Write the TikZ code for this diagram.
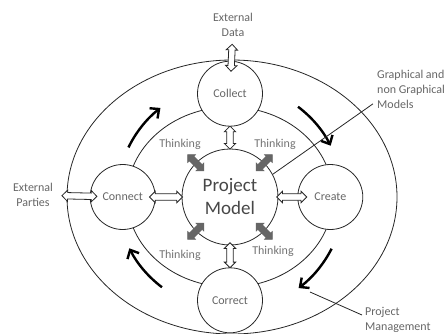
\documentclass[tikz,border=0pt]{standalone}
\usepackage{fontspec}
\setmainfont{Carlito}
\usetikzlibrary{arrows.meta, positioning, shapes.arrows}

\begin{document}
\begin{tikzpicture}[
    x=1pt, y=1pt,
    ring/.style={draw=black!85, line width=0.8pt},
    stage/.style={
        circle,
        ring,
        fill=white,
        minimum size=65pt,
        inner sep=0pt,
        font=\fontsize{12}{14}\selectfont,
        text=black!60
    },
    hub/.style={
        circle,
        ring,
        fill=white,
        minimum size=96pt,
        inner sep=0pt,
        align=center,
        font=\fontsize{19}{23}\selectfont,
        text=black!72
    },
    note/.style={align=center, inner sep=2pt, font=\fontsize{12}{15}\selectfont, text=black!60},
    think/.style={
        double arrow,
        fill=black!60,
        draw=black!60,
        inner sep=3pt,
        double arrow head extend=2.5pt,
        minimum height=23pt
    },
    thinktext/.style={font=\fontsize{12}{14}\selectfont, text=black!55},
    exchange/.style={
        double arrow,
        sloped,
        ring,
        fill=white,
        inner sep=2.8pt,
        double arrow head extend=2.5pt,
        minimum height=26pt
    },
    turn/.style={line width=2.4pt, -{Straight Barb[length=7pt, width=13pt]}}
]
\useasboundingbox (0,0) rectangle (447,333);

% Rings
\coordinate (centre) at (230,136);
\draw[ring] ([xshift=2pt]centre) ellipse [x radius=165, y radius=137];
\draw[ring] (centre) ellipse [x radius=103, y radius=90];

% Model and the four stages
\node[hub] (model) at (centre) {Project\\Model};
\node[stage, above=22pt of model] (collect) {Collect};
\node[stage, right=19pt of model] (create) {Create};
\node[stage, below=22pt of model] (correct) {Correct};
\node[stage, left=26pt of model] (connect) {Connect};

% Outside labels
\node[note] (data) at (233,308) {External\\Data};
\node[note] (parties) at (33,138) {External\\Parties};
\node[note, align=left, anchor=north west] (graphics) at (375,265) {Graphical and\\non Graphical\\Models};
\node[note, align=left, anchor=north west] (management) at (363,28) {Project\\Management};
\coordinate (pmtip) at (310,41);

% Thinking
\node[think, rotate=-45] (thinknw) at (model.north west) {};
\node[think, rotate=45] (thinkne) at (model.north east) {};
\node[think, rotate=45] (thinksw) at (model.south west) {};
\node[think, rotate=-45] (thinkse) at (model.south east) {};
\node[thinktext] (thinkingnw) at ([shift={(-50,53)}]model.center) {Thinking};
\node[thinktext] (thinkingne) at ([shift={(45,53)}]model.center) {Thinking};
\node[thinktext] (thinkingsw) at ([shift={(-50,-58)}]model.center) {Thinking};
\node[thinktext] (thinkingse) at ([shift={(43,-54)}]model.center) {Thinking};

% Exchanges
\path (data) -- node[exchange, pos=0.86, minimum height=27pt] (datalink) {} (collect);
\path (collect) -- node[exchange, minimum height=23pt] (collectlink) {} (model);
\path (connect) -- node[exchange, minimum height=33pt, pos=0.4] (connectlink) {} (model);
\path (model) -- node[exchange, minimum height=30pt, pos=0.7] (createlink) {} (create);
\path (model) -- node[exchange, minimum height=25pt, pos=0.45] (correctlink) {} (correct);
\path (parties) -- node[exchange, minimum height=35pt, pos=0.7] (partieslink) {} (connect);

% Cycle
\draw[turn] ([shift={(154:113)}]centre) arc[start angle=154, end angle=128, radius=113];
\draw[turn] ([shift={(53:113)}]centre) arc[start angle=53, end angle=27, radius=113];
\draw[turn] ([shift={(-27:114)}]centre) arc[start angle=-27, end angle=-53, radius=114];
\draw[turn] ([shift={(233:113)}]centre) arc[start angle=233, end angle=207, radius=113];

% Pointers
\draw[ring] (model.28) -- ([shift={(-2pt,7pt)}]graphics.south west);
\draw[ring] (pmtip) -- ([shift={(-1pt,-10pt)}]management.north west);

\end{tikzpicture}
\end{document}
